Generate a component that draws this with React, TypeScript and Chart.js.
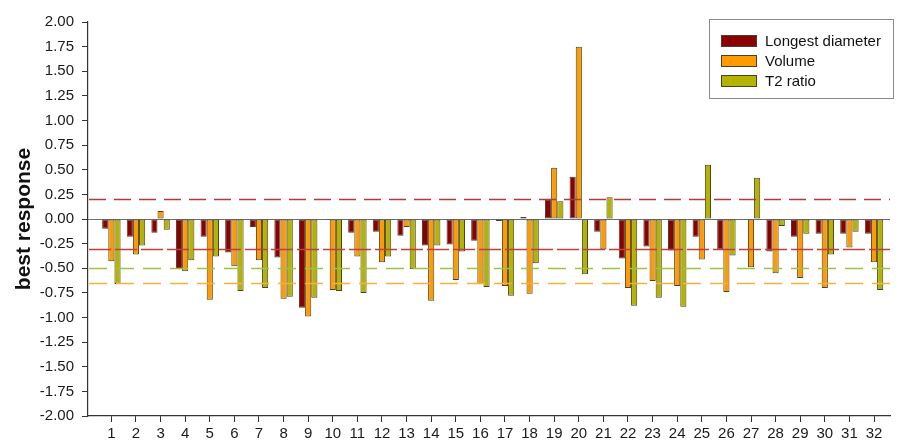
import React, { useEffect, useRef } from "react";
import { Chart, registerables } from "chart.js";

Chart.register(...registerables);

// Patient numbers along the x axis
const patients = [
  "1", "2", "3", "4", "5", "6", "7", "8", "9", "10", "11", "12", "13", "14", "15", "16",
  "17", "18", "19", "20", "21", "22", "23", "24", "25", "26", "27", "28", "29", "30", "31", "32",
];

// Best response per patient, by measurement
const longestDiameter = [
  -0.10, -0.18, -0.14, -0.51, -0.18, -0.34, -0.08, -0.39, -0.90, -0.01, -0.14, -0.13, -0.17, -0.27, -0.26, -0.22,
  -0.02, 0.02, 0.20, 0.43, -0.13, -0.40, -0.28, -0.32, -0.18, -0.31, 0.0, -0.33, -0.18, -0.15, -0.15, -0.15,
];
const volume = [
  -0.43, -0.36, 0.08, -0.53, -0.82, -0.48, -0.42, -0.81, -0.99, -0.72, -0.38, -0.44, -0.08, -0.83, -0.62, -0.66,
  -0.68, -0.76, 0.52, 1.75, -0.31, -0.70, -0.63, -0.68, -0.41, -0.74, -0.49, -0.55, -0.60, -0.70, -0.29, -0.44,
];
const t2Ratio = [
  -0.66, -0.27, -0.11, -0.42, -0.38, -0.73, -0.70, -0.79, -0.80, -0.73, -0.75, -0.38, -0.51, -0.27, -0.33, -0.69,
  -0.78, -0.45, 0.18, -0.56, 0.22, -0.88, -0.80, -0.89, 0.55, -0.37, 0.42, -0.07, -0.15, -0.36, -0.13, -0.72,
];

const seriesNames = ["Longest diameter", "Volume", "T2 ratio"];

// Threshold lines
const thresholds = [0.2, -0.3, -0.5, -0.65];

const FONT = "Arial, 'Liberation Sans', sans-serif";

const thresholdStyle = [
  { color: "#b23a3a", dash: [17, 8] },
  { color: "#bf3f3f", dash: [22, 4] },
  { color: "#9cc440", dash: [18, 9] },
  { color: "#f4b040", dash: [18, 9] },
];

const refLinesPlugin = {
  id: "refLines",
  beforeDatasetsDraw(chart: any) {
    const { ctx, chartArea, scales } = chart;
    const y0 = Math.round(scales.y.getPixelForValue(0)) + 0.5;
    ctx.save();
    ctx.strokeStyle = "#6e6e6e";
    ctx.lineWidth = 1.2;
    ctx.beginPath();
    ctx.moveTo(chartArea.left, y0);
    ctx.lineTo(chartArea.right, y0);
    ctx.stroke();
    ctx.restore();
  },
  afterDatasetsDraw(chart: any) {
    const { ctx, chartArea, scales } = chart;
    ctx.save();
    thresholds.forEach((v, i) => {
      const y = Math.round(scales.y.getPixelForValue(v)) + 0.5;
      ctx.strokeStyle = thresholdStyle[i].color;
      ctx.lineWidth = 1.5;
      ctx.setLineDash(thresholdStyle[i].dash);
      ctx.beginPath();
      ctx.moveTo(chartArea.left + 1, y);
      ctx.lineTo(chartArea.right, y);
      ctx.stroke();
    });
    ctx.restore();
  },
};

const boxLegendPlugin = {
  id: "boxLegend",
  afterDraw(chart: any) {
    const { ctx, chartArea } = chart;
    const right = chartArea.right + 3;
    const left = right - 184;
    const top = chartArea.top - 3;
    const bottom = top + 79;
    ctx.save();
    ctx.fillStyle = "#ffffff";
    ctx.fillRect(left, top, right - left, bottom - top);
    ctx.strokeStyle = "#8a8a8a";
    ctx.lineWidth = 1;
    ctx.strokeRect(left + 0.5, top + 0.5, right - left, bottom - top);
    ctx.font = `15px ${FONT}`;
    ctx.textBaseline = "middle";
    chart.data.datasets.forEach((ds: any, i: number) => {
      const cy = top + 22 + i * 20;
      ctx.fillStyle = ds.backgroundColor;
      ctx.fillRect(left + 12, cy - 5.5, 35, 11);
      ctx.strokeStyle = "#4a4030";
      ctx.strokeRect(left + 12.5, cy - 5.5, 35, 11);
      ctx.fillStyle = "#111111";
      ctx.fillText(ds.label, left + 56, cy + 0.5);
    });
    ctx.restore();
  },
};

export default function App() {
  const canvasRef = useRef<HTMLCanvasElement | null>(null);

  useEffect(() => {
    document.body.style.margin = "0";
    const toPoints = (arr: number[]) => arr.map((v, i) => ({ x: i + 1, y: v }));
    const colors = ["#8b0000", "#ff9a00", "#b4b400"];
    const series = [longestDiameter, volume, t2Ratio];

    const chart = new Chart(canvasRef.current as HTMLCanvasElement, {
      type: "bar",
      data: {
        datasets: series.map((s, i) => ({
          label: seriesNames[i],
          data: toPoints(s),
          backgroundColor: colors[i],
          borderColor: "#4a4030",
          borderWidth: 1,
          borderSkipped: false,
          barPercentage: 1,
          categoryPercentage: 0.75,
        })),
      },
      options: {
        animation: false,
        responsive: false,
        maintainAspectRatio: false,
        layout: { padding: { top: 22, right: 11, left: 0, bottom: 0 } },
        plugins: {
          legend: { display: false },
          tooltip: { enabled: false },
        },
        scales: {
          x: {
            type: "linear",
            offset: false,
            min: 0.05,
            max: 32.65,
            afterBuildTicks(scale: any) {
              scale.ticks = patients.map((_, i) => ({ value: i + 1 }));
            },
            afterFit(scale: any) {
              scale.height = 30;
            },
            ticks: {
              autoSkip: false,
              maxRotation: 0,
              padding: 3,
              color: "#1a1a1a",
              font: { family: FONT, size: 15 },
              callback: (v: any) => patients[Number(v) - 1] ?? "",
            },
            grid: {
              offset: false,
              drawOnChartArea: false,
              drawTicks: true,
              tickLength: 6,
              tickColor: "#333333",
            },
            border: { display: true, color: "#333333", width: 1.2 },
          },
          y: {
            min: -2,
            max: 2,
            afterFit(scale: any) {
              scale.width = 88;
            },
            ticks: {
              stepSize: 0.25,
              padding: 8,
              color: "#1a1a1a",
              font: { family: FONT, size: 15 },
              callback: (v: any) => Number(v).toFixed(2),
            },
            grid: {
              drawOnChartArea: false,
              drawTicks: true,
              tickLength: 6,
              tickColor: "#333333",
            },
            border: { display: true, color: "#333333", width: 1.2 },
            title: {
              display: true,
              text: "best response",
              color: "#111111",
              font: { family: FONT, size: 21, weight: "bold" },
              padding: { top: 12, bottom: 0 },
            },
          },
        },
      },
      plugins: [refLinesPlugin, boxLegendPlugin],
    } as any);

    return () => chart.destroy();
  }, []);

  return (
    <div style={{ width: 901, height: 446 }}>
      <canvas ref={canvasRef} width={901} height={446} style={{ display: "block" }} />
    </div>
  );
}
